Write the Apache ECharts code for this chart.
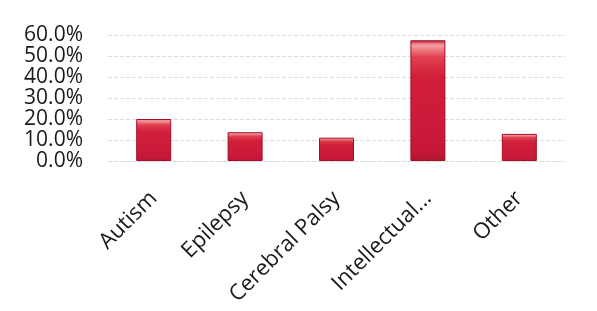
<!DOCTYPE html>
<html>
<head>
<meta charset="utf-8">
<script src="https://cdn.jsdelivr.net/npm/echarts@6/dist/echarts.min.js"></script>
<style>
  html, body { margin: 0; padding: 0; background: #fff; }
  #chart { width: 597px; height: 311px; }
</style>
</head>
<body>
<div id="chart"></div>
<script>
// categories and values
var categories = ['Autism', 'Epilepsy', 'Cerebral Palsy', 'Intellectual...', 'Other'];
var percents = [20.0, 13.7, 11.1, 57.5, 12.9];

var chart = echarts.init(document.getElementById('chart'));

var barFill = new echarts.graphic.LinearGradient(0, 0, 0, 1, [
  { offset: 0, color: '#c01830' },
  { offset: 0.04, color: '#f4a0a0' },
  { offset: 0.14, color: '#e04050' },
  { offset: 0.3, color: '#d11f3a' },
  { offset: 0.9, color: '#c8183a' },
  { offset: 1, color: '#b01530' }
]);

var option = {
  animation: false,
  grid: { left: 108, right: 32, top: 35, bottom: 150, containLabel: false },
  xAxis: {
    type: 'category',
    data: categories,
    axisLine: { show: true, lineStyle: { color: '#dcdcdc', type: 'dashed' } },
    axisTick: { show: false },
    axisLabel: {
      rotate: 45,
      interval: 0,
      margin: 34,
      color: '#1a1a1a',
      fontSize: 22,
      fontFamily: 'Open Sans'
    }
  },
  yAxis: {
    type: 'value',
    min: 0,
    max: 60,
    interval: 10,
    axisLine: { show: false },
    axisTick: { show: false },
    splitLine: { lineStyle: { color: '#dcdcdc', type: 'dashed' } },
    axisLabel: {
      formatter: function (v) { return v.toFixed(1) + '%'; },
      color: '#1a1a1a',
      fontSize: 21,
      fontFamily: 'Open Sans',
      margin: 25
    }
  },
  series: [{
    type: 'bar',
    data: percents,
    barWidth: 35,
    itemStyle: { color: barFill, borderColor: '#a01028', borderWidth: 1 }
  }]
};

chart.setOption(option);
</script>
</body>
</html>
